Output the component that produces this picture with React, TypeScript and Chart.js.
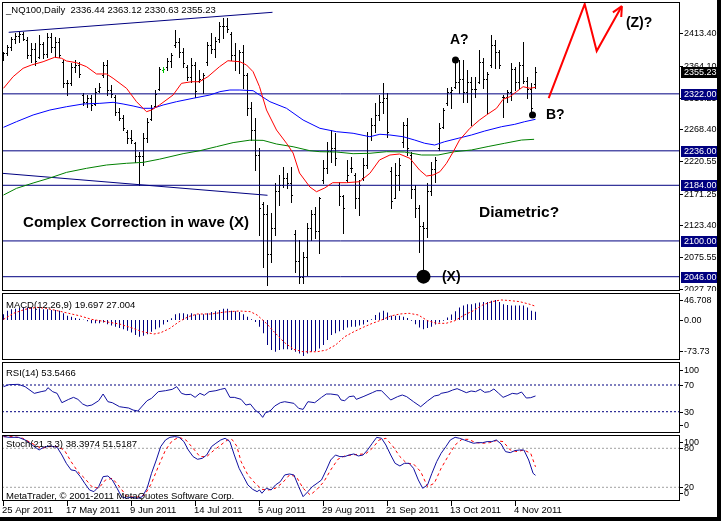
import React, { useEffect, useRef } from "react";
import { Chart, registerables } from "chart.js";

Chart.register(...registerables);

// ---------------- DATA ----------------
const symbolTitle = "_NQ100,Daily";
const lastOHLC = ["2336.44", "2363.12", "2330.63", "2355.23"];
const lastPrice = 2355.23;

const xTickBars = [0, 16, 32, 48, 64, 80, 96, 112, 128];
const xTickLabels = ["25 Apr 2011", "17 May 2011", "9 Jun 2011", "14 Jul 2011", "5 Aug 2011", "29 Aug 2011", "21 Sep 2011", "13 Oct 2011", "4 Nov 2011"];

const opens = [
  2375, 2383, 2392, 2405, 2410, 2412, 2404, 2380, 2390, 2378,
  2398, 2382, 2408, 2392, 2400, 2370, 2338, 2338, 2362, 2366,
  2320, 2310, 2315, 2306, 2326, 2350, 2365, 2328, 2318, 2294,
  2286, 2265, 2255, 2248, 2228, 2228, 2255, 2284, 2304, 2330,
  2358, 2362, 2372, 2395, 2400, 2385, 2362, 2348, 2365, 2342,
  2345, 2370, 2396, 2390, 2405, 2425, 2425, 2412, 2380, 2372,
  2385, 2350, 2300, 2268, 2230, 2155, 2140, 2080, 2120, 2175,
  2185, 2195, 2188, 2110, 2070, 2045, 2075, 2120, 2140, 2115,
  2192, 2210, 2235, 2240, 2185, 2168, 2192, 2210, 2200, 2165,
  2195, 2215, 2258, 2275, 2290, 2310, 2315, 2205, 2165, 2200,
  2250, 2275, 2230, 2178, 2150, 2122, 2120, 2175, 2208, 2240,
  2272, 2308, 2325, 2332, 2340, 2345, 2325, 2340, 2330, 2340,
  2370, 2345, 2365, 2395, 2385, 2318, 2318, 2325, 2360, 2340,
  2365, 2342, 2330, 2336.44,
];
const highs = [
  2385.7, 2395.7, 2408.3, 2413.3, 2415.9, 2415.9, 2408.3, 2398.2, 2398.2, 2410.8,
  2400.8, 2413.3, 2413.3, 2408.3, 2405.8, 2373.1, 2342.9, 2368.1, 2373.1, 2370.6,
  2322.8, 2320.3, 2320.3, 2330.3, 2337.9, 2370.6, 2373.1, 2335.4, 2320.3, 2300.1,
  2290.1, 2267.4, 2267.4, 2249.8, 2234.7, 2262.4, 2285.0, 2305.2, 2327.8, 2363.0,
  2363.0, 2375.6, 2383.1, 2418.4, 2405.8, 2390.7, 2365.5, 2375.6, 2370.6, 2358.0,
  2352.9, 2400.8, 2413.3, 2408.3, 2430.9, 2436.0, 2436.0, 2415.9, 2398.2, 2388.2,
  2395.7, 2352.9, 2310.2, 2285.0, 2239.8, 2159.3, 2154.2, 2141.7, 2186.9, 2199.5,
  2212.1, 2202.0, 2212.1, 2116.5, 2101.4, 2083.8, 2126.6, 2146.7, 2151.7, 2166.8,
  2222.2, 2249.8, 2267.4, 2262.4, 2189.5, 2169.3, 2222.2, 2227.2, 2202.0, 2192.0,
  2224.7, 2264.9, 2285.0, 2307.7, 2320.3, 2337.9, 2322.8, 2212.1, 2217.1, 2224.7,
  2280.0, 2285.0, 2234.7, 2184.4, 2154.2, 2129.1, 2186.9, 2219.6, 2227.2, 2277.5,
  2300.1, 2330.3, 2332.8, 2373.1, 2373.1, 2373.1, 2358.0, 2347.9, 2347.9, 2388.2,
  2375.6, 2355.5, 2410.8, 2403.3, 2388.2, 2320.3, 2327.8, 2368.1, 2363.0, 2370.6,
  2400.8, 2347.9, 2337.9, 2363.12,
];
const lows = [
  2373.1, 2380.6, 2388.2, 2398.2, 2400.8, 2403.3, 2375.6, 2370.6, 2365.5, 2375.6,
  2375.6, 2378.1, 2385.7, 2378.1, 2378.1, 2332.8, 2320.3, 2335.4, 2355.5, 2347.9,
  2305.2, 2302.7, 2297.6, 2305.2, 2325.3, 2347.9, 2320.3, 2317.7, 2290.1, 2282.5,
  2267.4, 2247.3, 2247.3, 2219.6, 2184.4, 2214.6, 2249.8, 2282.5, 2302.7, 2327.8,
  2355.5, 2358.0, 2363.0, 2393.2, 2378.1, 2363.0, 2342.9, 2340.4, 2317.7, 2340.4,
  2322.8, 2365.5, 2383.1, 2378.1, 2400.8, 2405.8, 2415.9, 2373.1, 2358.0, 2352.9,
  2330.3, 2290.1, 2252.3, 2207.1, 2109.0, 2061.2, 2033.5, 2068.7, 2109.0, 2154.2,
  2181.9, 2179.4, 2159.3, 2053.6, 2036.0, 2036.0, 2048.6, 2101.4, 2103.9, 2081.3,
  2186.9, 2202.0, 2219.6, 2214.6, 2154.2, 2111.5, 2189.5, 2204.6, 2149.2, 2139.1,
  2192.0, 2209.6, 2252.3, 2264.9, 2282.5, 2292.6, 2257.4, 2149.2, 2164.3, 2176.9,
  2242.3, 2229.7, 2164.3, 2136.6, 2083.8, 2046.1, 2106.5, 2169.3, 2189.5, 2237.3,
  2269.9, 2305.2, 2300.1, 2330.3, 2322.8, 2310.2, 2310.2, 2275.0, 2317.7, 2337.9,
  2330.3, 2292.6, 2363.0, 2360.5, 2360.5, 2287.6, 2310.2, 2312.7, 2327.8, 2330.3,
  2337.9, 2315.2, 2290.1, 2330.63,
];
const closes = [
  2383, 2392, 2405, 2410, 2412, 2405, 2380, 2390, 2372, 2398,
  2382, 2408, 2392, 2400, 2380, 2338, 2338, 2362, 2366, 2352,
  2310, 2315, 2305, 2325, 2332, 2365, 2328, 2322, 2294, 2286,
  2270, 2255, 2252, 2228, 2228, 2255, 2280, 2300, 2322, 2360,
  2360, 2372, 2380, 2400, 2385, 2368, 2348, 2365, 2326, 2345,
  2350, 2396, 2390, 2402, 2425, 2425, 2420, 2380, 2372, 2385,
  2350, 2300, 2268, 2230, 2150, 2140, 2080, 2120, 2175, 2185,
  2195, 2188, 2170, 2070, 2045, 2075, 2120, 2140, 2115, 2165,
  2210, 2235, 2240, 2225, 2168, 2150, 2200, 2210, 2165, 2185,
  2215, 2258, 2275, 2290, 2310, 2315, 2265, 2160, 2200, 2215,
  2275, 2240, 2178, 2150, 2122, 2120, 2175, 2208, 2222, 2270,
  2298, 2325, 2328, 2340, 2345, 2325, 2340, 2330, 2330, 2370,
  2345, 2352, 2395, 2385, 2365, 2318, 2325, 2360, 2340, 2365,
  2342, 2330, 2300, 2355.23,
];
const dojiBars = [40];

// moving averages: [bar index, price]
const maFast = [
  [0, 2330.4], [2.4, 2347.9], [4.9, 2360.6], [7, 2365.6], [9.9, 2370.5], [12.8, 2377.2], [14.5, 2375.7],
  [15.75, 2371.6], [18.25, 2369.0], [20.75, 2363.0], [23.25, 2352.0], [25.75, 2352.0], [27.4, 2345.5],
  [30.75, 2330.4], [33.25, 2310.2], [35.75, 2295.1], [37, 2297.6], [39, 2305.2], [42.4, 2320.3],
  [44.5, 2337.9], [47, 2340.3], [49, 2340.3], [51.1, 2347.9], [54, 2363.0], [56.1, 2372.0], [59.1, 2370.5],
  [60.75, 2365.6], [62.4, 2355.4], [64, 2332.8], [65.75, 2297.6], [68.25, 2267.4], [70.75, 2247.4],
  [72.4, 2232.7], [74, 2202.5], [76.6, 2181.4], [78.25, 2174.3], [80.3, 2179.9], [82.3, 2187.9],
  [85.75, 2187.9], [89, 2189.4], [91.6, 2202.1], [94, 2222.2], [96.6, 2229.7], [99, 2231.2],
  [101.6, 2224.7], [104, 2207.1], [105.75, 2198.0], [107.4, 2199.5], [109.1, 2204.5], [110.75, 2217.2],
  [112.4, 2234.2], [114, 2252.3], [116.6, 2270.0], [119, 2282.5], [120.75, 2290.1], [123.25, 2300.2],
  [124.9, 2313.8], [126.6, 2317.7], [128.25, 2325.3], [129.9, 2332.8], [131.6, 2330.4], [133, 2331.9],
];
const maMid = [
  [0, 2271.5], [3.25, 2280.0], [7.4, 2290.1], [11.6, 2297.6], [15.75, 2302.6], [19.9, 2306.7], [24.1, 2307.7],
  [27.4, 2309.2], [29.9, 2306.7], [32.4, 2303.7], [34.9, 2300.2], [37.4, 2300.2], [39.9, 2305.2],
  [43.25, 2310.2], [47.4, 2315.3], [51.6, 2320.3], [54.1, 2325.3], [56.6, 2327.8], [59.1, 2327.8],
  [62.4, 2326.8], [64, 2320.3], [66.6, 2310.2], [70.75, 2300.2], [74.9, 2282.5], [79.1, 2270.0],
  [83.25, 2264.9], [87.4, 2262.5], [91.6, 2257.3], [94.1, 2261.0], [96.6, 2259.9], [99.9, 2257.3],
  [102.8, 2252.3], [105.3, 2247.4], [107.8, 2244.8], [110.3, 2249.8], [113.65, 2254.9], [117, 2259.9],
  [120.3, 2265.9], [124.5, 2272.4], [127.8, 2276.0], [130.3, 2280.0], [133, 2283.6],
];
const maSlow = [
  [0, 2169.3], [3.25, 2179.4], [7.4, 2187.4], [11.6, 2195.0], [15.75, 2203.5], [20.75, 2209.6], [25.75, 2214.6],
  [30.75, 2217.2], [34.9, 2218.6], [39, 2223.4], [44.9, 2231.7], [49.1, 2236.2], [53.25, 2242.3],
  [57.4, 2248.4], [61.6, 2252.1], [64.9, 2251.8], [68.25, 2246.3], [72.4, 2242.2], [76.6, 2236.2],
  [79.1, 2234.7], [83.25, 2234.2], [87.4, 2231.7], [91.6, 2232.3], [95.75, 2234.7], [100.3, 2234.2],
  [104.5, 2229.7], [108.65, 2229.7], [112.8, 2234.7], [117, 2237.3], [121.15, 2242.5], [125.3, 2247.4],
  [129.5, 2252.3], [132.65, 2253.4],
];

const levelLines = [2322, 2236, 2184, 2100, 2046];
const priceTicks = [2413.4, 2364.1, 2316.25, 2268.4, 2220.55, 2171.25, 2123.4, 2075.55, 2027.7];
const upperTrend = [[1.3, 2414.9], [67.25, 2445.1]];
const lowerTrend = [[-0.4, 2202.1], [66, 2168.9]];
const projection = [[136.3, 2315.7], [145.3, 2457.6], [148.3, 2386.6], [154.6, 2454.5]];
const markA = [113, 2373.1];
const markB = [132.25, 2290.1];
const markX = [105, 2046.1];

const macdHist = [
  14, 22, 26, 27, 29, 30, 30, 30, 28, 28,
  26, 26, 24, 24, 22, 16, 10, 8, 5, 3,
  0.5, -3, -8, -8, -8, -6, -10, -13, -16, -19,
  -22, -26, -30, -36, -40, -38, -34, -28, -22, -18,
  -11, -5, 4, 14, 16, 16, 14, 16, 13, 14,
  14, 16, 19, 21, 24, 27, 27, 22, 21, 19,
  14, 8, 2, -5, -16, -32, -60, -72, -76, -72,
  -70, -70, -72, -76, -80, -86, -80, -76, -74, -68,
  -60, -48, -36, -32, -27, -24, -18, -16, -16, -13,
  -11, -5, 2, 12, 18, 22, 18, 10, 10, 10,
  8, 5, -2, -10, -18, -22, -19, -16, -11, -6,
  -2, 6, 13, 21, 30, 35, 38, 38, 40, 42,
  43, 43, 46, 48, 43, 38, 36, 35, 35, 35,
  35, 30, 22, 19.697,
];
const macdSignal = [
  [0, 1.6], [2.5, 16], [5.4, 25.6], [8.3, 30.4], [10.6, 28], [13.4, 22.4], [16.3, 16], [19.2, 9.6], [22, 1.6],
  [25.5, -4], [29, -9.6], [32.4, -20], [34.7, -28], [37.6, -33.6], [39.3, -30.4], [41.6, -20], [43.9, -4],
  [46.2, 8], [48.5, 14.4], [52, 14.4], [55.4, 19.2], [58.9, 21.6], [61.7, 20], [63.4, 12], [65.7, -8],
  [68, -32], [70.3, -54.4], [72.6, -70.4], [74.9, -76], [78.4, -76], [80.7, -72], [83, -60], [85.3, -40],
  [87.6, -28], [89.9, -17.6], [92.2, -8], [94.5, 0], [96.8, 9.6], [99.1, 14.4], [101.4, 16], [103.7, 12],
  [106, -1.6], [108.3, -8], [110.6, -8], [112.9, -1.6], [115.2, 12], [117.5, 22.4], [119.8, 36], [122.1, 44],
  [124.4, 48], [126.7, 46.4], [129, 44], [131.3, 38.4], [133, 33],
];
const macdTickValues = [46.708, 0, -73.73];
const macdTickLabels = ["46.708", "0.00", "-73.73"];

const rsiLine = [
  [0, 67.5], [1.4, 70.5], [3.7, 71], [5.4, 67.5], [7.7, 57.5], [9.4, 60], [10.6, 61.5], [11.1, 66], [12.3, 60],
  [13.4, 57.5], [14.6, 43.5], [16.3, 48.5], [17.5, 51.5], [18.6, 48.5], [19.8, 41.5], [20.9, 38.5], [22.1, 40],
  [23.8, 46.5], [24.9, 56.5], [26.1, 45], [27.2, 43.5], [29, 37.5], [30.1, 36.5], [31.3, 35.5], [32.4, 32.5],
  [33.6, 31], [34.7, 38.5], [35.9, 46.5], [37, 50], [38.7, 60], [40.5, 61.5], [42.2, 63.5], [43.3, 67.5],
  [44.5, 57.5], [45.6, 55.5], [46.8, 56], [47.9, 51.5], [49.1, 57.5], [50.2, 54.5], [51.4, 60], [53.1, 61.5],
  [54.3, 63.5], [55.4, 65], [56.6, 51.5], [57.7, 51.5], [59.4, 48.5], [60.6, 40], [61.7, 41.5], [62.9, 32.5],
  [64, 27.5], [64.8, 21.5], [65.5, 28.5], [66.3, 30], [66.9, 32.5], [67.8, 38.5], [69.2, 43.5], [70.3, 45],
  [72.6, 42.5], [73.8, 35], [74.9, 33.5], [76.1, 45], [77.8, 43.5], [79.5, 51.5], [80.7, 56.5], [81.8, 56.5],
  [83.6, 55], [84.4, 47.5], [85.3, 46.5], [86.4, 52.5], [87.6, 53.5], [88.2, 48.5], [89.9, 52.5], [92.2, 58.5],
  [93.3, 61.5], [94.5, 61.5], [96.8, 47.5], [98.5, 52.5], [99.7, 55], [100.8, 52.5], [102.5, 45], [104.3, 37.5],
  [106, 46], [107.7, 53.5], [108.9, 55], [109.4, 57.5], [111.1, 59.5], [112.3, 62.5], [113.4, 64.5],
  [114.6, 61.5], [115.7, 58.5], [116.9, 61], [118, 60], [119.2, 63.5], [120.3, 59], [121.5, 60], [122.6, 64],
  [123.8, 57.5], [124.9, 51.5], [126.1, 54.5], [127.2, 57.5], [128.4, 56.5], [129.5, 59.5], [130.7, 50.5],
  [131.8, 51], [133, 53.55],
];
const rsiLevels = [70, 30];
const rsiTicks = [100, 70, 30, 0];

const stochMain = [
  [0, 98], [1.4, 96.9], [3.7, 96.9], [5.4, 92.8], [6.6, 87.7], [7.7, 82.6], [8.9, 77.4], [10, 81.5], [11.7, 83.6],
  [13.4, 81.5], [14.6, 69.7], [15.7, 56.9], [16.9, 46.7], [18, 45.6], [19.2, 36.4], [20.3, 26.2], [21.5, 15.9],
  [22.6, 13.3], [23.8, 21], [24.9, 36.4], [26.1, 37.4], [27.2, 31.3], [28.4, 18.5], [29.5, 5.6], [30.7, 3.1],
  [31.8, 4.6], [33.6, 3.1], [34.7, 5.6], [35.9, 18.5], [37, 41.5], [38.2, 62], [39.3, 82.6], [40.5, 92.8],
  [41.6, 96.9], [42.8, 98], [43.9, 96.9], [45.1, 90.3], [46.2, 77.4], [47.4, 67.2], [48.5, 63.1], [49.7, 64.6],
  [50.8, 69.7], [52, 82.6], [53.1, 87.7], [54.3, 92.8], [55.4, 95.4], [56.6, 90.3], [57.7, 69.7], [58.9, 49.2],
  [60, 36.4], [61.1, 23.6], [62.3, 16.9], [63.4, 13.3], [64, 15.9], [64.6, 10.8], [65.7, 18.5], [66.9, 15.9],
  [68, 23.6], [69.2, 28.7], [70.3, 39], [71.5, 40.5], [72.6, 39], [73.8, 21], [74.9, 5.6], [76.1, 13.3],
  [77.2, 21], [78.4, 26.2], [79.5, 31.3], [80.7, 46.7], [81.8, 62], [83, 69.7], [84.1, 67.2], [85.3, 67.2],
  [86.4, 69.7], [87.6, 71.3], [88.7, 68.2], [89.9, 69.7], [91, 77.4], [92.2, 87.7], [93.3, 96.9], [94.5, 95.4],
  [95.6, 85.1], [96.8, 69.7], [97.9, 56.9], [99.1, 52.8], [100.2, 56.9], [101.4, 56.9], [102.5, 49.2],
  [103.7, 31.3], [104.8, 18.5], [106, 23.6], [107.1, 41.5], [108.3, 59.5], [109.4, 72.3], [110.6, 82.6],
  [111.7, 92.8], [112.9, 96.9], [114, 95.4], [115.2, 92.8], [116.3, 90.3], [117.5, 87.7], [118.6, 88.7],
  [119.8, 88.7], [120.9, 90.3], [122.1, 90.3], [123.2, 92.8], [124.4, 86.7], [125.5, 74.9], [126.7, 73.3],
  [127.8, 76.4], [129, 77.4], [130.1, 77.4], [131.3, 62], [132.4, 41.5], [133, 38.4],
];
const stochSignal = [
  [0, 98], [2.5, 98], [4.8, 95.4], [7.1, 87.7], [9.4, 80], [11.7, 82.6], [13.4, 82.6], [15.2, 77.4], [16.9, 59.5],
  [18.6, 44.1], [20.3, 33.8], [22.1, 21], [23.8, 18.5], [25.5, 31.3], [27.2, 33.8], [29, 21], [30.7, 6.7],
  [33, 4.1], [35.3, 8.2], [37, 26.2], [38.7, 51.8], [40.5, 77.4], [42.2, 91.8], [43.9, 96.9], [45.6, 92.8],
  [47.4, 80], [49.1, 67.2], [50.8, 67.2], [52.5, 76.4], [54.3, 85.1], [56, 92.8], [57.1, 93.8], [58.3, 83.6],
  [59.4, 59.5], [61.1, 39], [62.9, 26.2], [64.6, 16.9], [66.3, 15.9], [68, 18.5], [69.8, 27.2], [71.5, 39],
  [73.2, 36.4], [74.9, 18.5], [76.7, 8.2], [78.4, 16.9], [80.1, 28.7], [81.8, 46.7], [83.6, 63.1], [85.3, 68.2],
  [87, 69.7], [88.7, 70.8], [90.5, 71.3], [92.2, 80], [93.9, 92.8], [95.6, 95.4], [97.4, 82.6], [99.1, 67.2],
  [100.8, 56.9], [102.5, 55.9], [104.3, 44.1], [106, 21], [107.7, 26.2], [109.4, 49.2], [111.1, 67.2],
  [112.9, 85.1], [114.6, 93.8], [116.3, 93.8], [118, 88.7], [119.8, 87.7], [121.5, 88.7], [123.2, 91.8],
  [124.9, 90.3], [126.7, 77.4], [128.4, 74.9], [130.1, 77.4], [131.8, 72.3], [133, 51.5],
];
const stochLevels = [80, 20];
const stochTicks = [100, 80, 20, 0];

// ---------------- HELPERS ----------------
const XMIN = -0.375;
const XMAX = 168.875;
const FONT = '"Liberation Sans", Arial, sans-serif';
const NAVY = "#000080";

const pts = (a: number[][]) => a.map(([x, y]) => ({ x, y }));
const hline = (v: number) => [{ x: XMIN, y: v }, { x: XMAX, y: v }];

function lineDs(data: any[], color: string, extra: any = {}) {
  return {
    type: "line",
    data,
    borderColor: color,
    backgroundColor: color,
    borderWidth: 1,
    pointRadius: 0,
    tension: 0,
    fill: false,
    ...extra,
  };
}

function baseOptions(ymin: number, ymax: number, padBottom = 0): any {
  return {
    animation: false,
    responsive: false,
    maintainAspectRatio: false,
    devicePixelRatio: 1,
    events: [],
    layout: { autoPadding: false, padding: { left: 2, right: 0, top: 0, bottom: padBottom } },
    plugins: { legend: { display: false }, tooltip: { enabled: false } },
    scales: {
      x: { type: "linear", min: XMIN, max: XMAX, display: false, offset: false },
      y: {
        type: "linear",
        position: "right",
        min: ymin,
        max: ymax,
        grid: { display: false },
        border: { display: false },
        ticks: { display: false },
        afterFit: (s: any) => {
          s.width = 38;
        },
      },
    },
  };
}

function drawFrame(chart: any) {
  const { ctx, chartArea: a } = chart;
  ctx.save();
  ctx.strokeStyle = "#000";
  ctx.lineWidth = 1;
  ctx.strokeRect(a.left + 0.5, a.top + 0.5, a.right - a.left, a.bottom - a.top - 1);
  ctx.restore();
}

const AXIS_FONT = `9px ${FONT}`;

function drawAxisTicks(chart: any, values: number[], labels: string[], clampTop: number, clampBottom: number) {
  const { ctx, chartArea: a, scales } = chart;
  ctx.save();
  ctx.font = AXIS_FONT;
  ctx.fillStyle = "#000";
  ctx.textBaseline = "middle";
  ctx.textAlign = "left";
  values.forEach((v, k) => {
    let py = scales.y.getPixelForValue(v);
    py = Math.min(Math.max(py, a.top + clampTop), a.bottom - clampBottom);
    ctx.fillRect(a.right + 1, Math.round(py), 3, 1);
    ctx.fillText(labels[k], a.right + 5, py + 0.5);
  });
  ctx.restore();
}

function boxLabel(chart: any, v: number, text: string, bg: string) {
  const { ctx, chartArea: a, scales } = chart;
  const py = Math.round(scales.y.getPixelForValue(v));
  ctx.save();
  ctx.fillStyle = bg;
  ctx.fillRect(a.right + 2, py - 5, 38, 11);
  ctx.fillStyle = "#fff";
  ctx.font = AXIS_FONT;
  ctx.textBaseline = "middle";
  ctx.textAlign = "left";
  ctx.fillText(text, a.right + 5, py + 0.5);
  ctx.restore();
}

function titleText(chart: any, text: string, y: number) {
  const { ctx, chartArea: a } = chart;
  ctx.save();
  ctx.font = `9.5px ${FONT}`;
  ctx.fillStyle = "#000";
  ctx.textBaseline = "middle";
  ctx.textAlign = "left";
  ctx.fillText(text, a.left + 4, a.top + y);
  ctx.restore();
}

// ---------------- PLUGINS ----------------
const mainPlugin = {
  id: "mainDecor",
  beforeDatasetsDraw(chart: any) {
    const { ctx, scales } = chart;
    const { x, y } = scales;
    ctx.save();
    for (let i = 0; i < highs.length; i++) {
      const px = Math.floor(x.getPixelForValue(i));
      const yh = Math.round(y.getPixelForValue(highs[i]));
      const yl = Math.round(y.getPixelForValue(lows[i]));
      const yo = Math.round(y.getPixelForValue(opens[i]));
      const yc = Math.round(y.getPixelForValue(closes[i]));
      ctx.fillStyle = dojiBars.includes(i) ? "#00c000" : "#000";
      ctx.fillRect(px, yh, 1, Math.max(1, yl - yh + 1));
      ctx.fillRect(px - 1, yo, 1, 1);
      ctx.fillRect(px + 1, yc, 1, 1);
    }
    ctx.restore();
  },
  afterDatasetsDraw(chart: any) {
    const { ctx, scales } = chart;
    const { x, y } = scales;
    // arrow head at projection end
    const n = projection.length;
    const tx = x.getPixelForValue(projection[n - 1][0]);
    const ty = y.getPixelForValue(projection[n - 1][1]);
    const fx = x.getPixelForValue(projection[n - 2][0]);
    const fy = y.getPixelForValue(projection[n - 2][1]);
    const ang = Math.atan2(ty - fy, tx - fx);
    ctx.save();
    ctx.strokeStyle = "#ff0000";
    ctx.lineWidth = 2;
    ctx.beginPath();
    [0.45, -0.45].forEach((d) => {
      ctx.moveTo(tx, ty);
      ctx.lineTo(tx - 11 * Math.cos(ang + d), ty - 11 * Math.sin(ang + d));
    });
    ctx.stroke();
    ctx.restore();

    // annotations
    const txt = (s: string, bx: number, pv: number, size: number) => {
      ctx.save();
      ctx.font = `bold ${size}px ${FONT}`;
      ctx.fillStyle = "#000";
      ctx.textBaseline = "middle";
      ctx.textAlign = "left";
      ctx.fillText(s, x.getPixelForValue(bx), y.getPixelForValue(pv));
      ctx.restore();
    };
    txt("Complex Correction in wave (X)", 4.9, 2127, 15);
    txt("Diametric?", 118.9, 2142, 15.5);
    txt("A?", 111.6, 2403, 14);
    txt("B?", 135.6, 2290, 14);
    txt("(Z)?", 155.6, 2429, 14);
    txt("(X)", 109.6, 2046, 14);
  },
  afterDraw(chart: any) {
    drawFrame(chart);
    drawAxisTicks(chart, priceTicks, priceTicks.map((v) => v.toFixed(2)), -10, -10);
    levelLines.forEach((v) => boxLabel(chart, v, v.toFixed(2), NAVY));
    boxLabel(chart, lastPrice, lastPrice.toFixed(2), "#000");
    titleText(chart, `${symbolTitle}  ${lastOHLC.join(" ")}`, 8);
  },
};

const macdPlugin = {
  id: "macdDecor",
  afterDraw(chart: any) {
    drawFrame(chart);
    drawAxisTicks(chart, macdTickValues, macdTickLabels, 7, 8);
    titleText(chart, `MACD(12,26,9) ${macdHist[macdHist.length - 1].toFixed(3)} 27.004`, 12);
  },
};

const rsiPlugin = {
  id: "rsiDecor",
  afterDraw(chart: any) {
    drawFrame(chart);
    drawAxisTicks(chart, rsiTicks, rsiTicks.map(String), 8, 8);
    titleText(chart, "RSI(14) 53.5466", 11);
  },
};

const stochPlugin = {
  id: "stochDecor",
  afterDraw(chart: any) {
    const { ctx, chartArea: a, scales } = chart;
    drawFrame(chart);
    drawAxisTicks(chart, stochTicks, stochTicks.map(String), 7, 8);
    titleText(chart, "Stoch(21,3,3) 38.3974 51.5187", 9);
    titleText(chart, "MetaTrader, \u00a9 2001-2011 MetaQuotes Software Corp.", 61);
    ctx.save();
    ctx.font = `9.5px ${FONT}`;
    ctx.fillStyle = "#000";
    ctx.textBaseline = "middle";
    ctx.textAlign = "left";
    xTickBars.forEach((b, k) => {
      const px = Math.floor(scales.x.getPixelForValue(b));
      ctx.fillRect(px, a.bottom, 1, 5);
      ctx.fillText(xTickLabels[k], px - 1, a.bottom + 9.5);
    });
    ctx.restore();
  },
};

// ---------------- COMPONENT ----------------
export default function App() {
  const mainRef = useRef<HTMLCanvasElement>(null);
  const macdRef = useRef<HTMLCanvasElement>(null);
  const rsiRef = useRef<HTMLCanvasElement>(null);
  const stochRef = useRef<HTMLCanvasElement>(null);

  useEffect(() => {
    const charts: Chart[] = [];

    const mainDatasets: any[] = [
      lineDs([{ x: markA[0], y: markA[1] }], "#000", { showLine: false, pointRadius: 3.5, pointBorderWidth: 0 }),
      lineDs([{ x: markB[0], y: markB[1] }], "#000", { showLine: false, pointRadius: 3.5, pointBorderWidth: 0 }),
      lineDs([{ x: markX[0], y: markX[1] }], "#000", { showLine: false, pointRadius: 7, pointBorderWidth: 0 }),
      lineDs(pts(projection), "#ff0000", { borderWidth: 2 }),
      lineDs(pts(maFast), "#ff0000"),
      lineDs(pts(maMid), "#0000ff"),
      lineDs(pts(maSlow), "#008000"),
      lineDs(pts(upperTrend), NAVY),
      lineDs(pts(lowerTrend), NAVY),
      ...levelLines.map((v) => lineDs(hline(v), NAVY)),
    ];

    charts.push(
      new Chart(mainRef.current!, {
        type: "line",
        data: { datasets: mainDatasets },
        options: baseOptions(2024.43, 2460.65),
        plugins: [mainPlugin],
      } as any)
    );

    charts.push(
      new Chart(macdRef.current!, {
        type: "bar",
        data: {
          datasets: [
            lineDs(pts(macdSignal), "#ff0000", { borderDash: [2, 2] }),
            {
              type: "bar",
              data: macdHist.map((v, i) => ({ x: i, y: v })),
              backgroundColor: NAVY,
              borderWidth: 0,
              barThickness: 1,
              inflateAmount: 0,
            },
          ],
        },
        options: baseOptions(-95.79, 64.66),
        plugins: [macdPlugin],
      } as any)
    );

    charts.push(
      new Chart(rsiRef.current!, {
        type: "line",
        data: {
          datasets: [
            lineDs(pts(rsiLine), "#1010a0"),
            ...rsiLevels.map((v) => lineDs(hline(v), NAVY, { borderDash: [2, 2] })),
          ],
        },
        options: baseOptions(-1.91, 104.46),
        plugins: [rsiPlugin],
      } as any)
    );

    charts.push(
      new Chart(stochRef.current!, {
        type: "line",
        data: {
          datasets: [
            lineDs(pts(stochMain), "#1010a0"),
            lineDs(pts(stochSignal), "#ff0000", { borderDash: [3, 3] }),
            ...stochLevels.map((v) => lineDs(hline(v), "#a0a0a0", { borderDash: [2, 2] })),
          ],
        },
        options: baseOptions(-1.08, 100.46, 16),
        plugins: [stochPlugin],
      } as any)
    );

    return () => charts.forEach((c) => c.destroy());
  }, []);

  const cv = (top: number, h: number): React.CSSProperties => ({
    position: "absolute",
    left: 0,
    top,
    width: 717,
    height: h,
  });

  return (
    <div style={{ position: "absolute", left: 0, top: 0, width: 721, height: 521, background: "#000" }}>
      <div style={{ position: "absolute", left: 0, top: 0, width: 717, height: 517, background: "#fff", overflow: "hidden" }}>
        <canvas ref={mainRef} width={717} height={289} style={cv(2, 289)} />
        <canvas ref={macdRef} width={717} height={67} style={cv(293, 67)} />
        <canvas ref={rsiRef} width={717} height={71} style={cv(362, 71)} />
        <canvas ref={stochRef} width={717} height={82} style={cv(435, 82)} />
      </div>
    </div>
  );
}
